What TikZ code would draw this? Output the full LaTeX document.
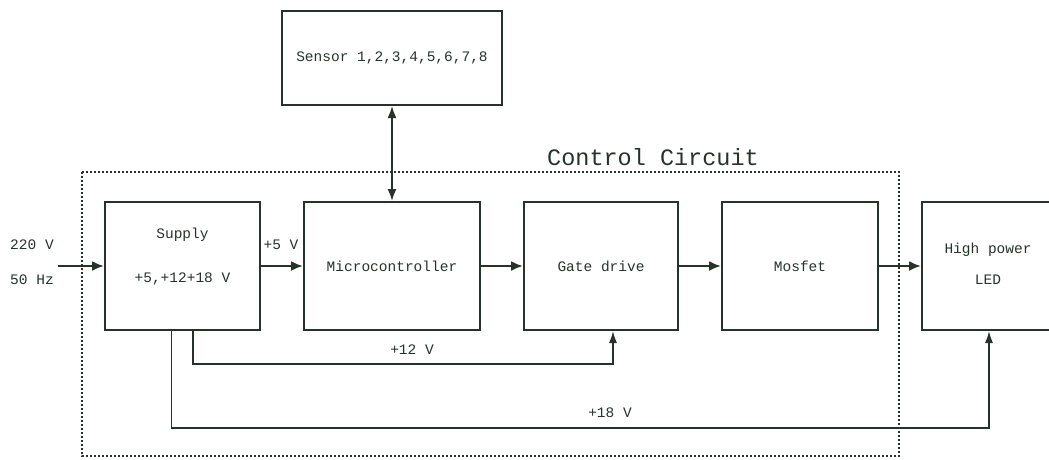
\documentclass[tikz,border=0pt]{standalone}
\usepackage{fontspec}
\setmonofont{Liberation Mono}
\usetikzlibrary{arrows.meta}
\definecolor{ink}{RGB}{40,50,44}
\begin{document}
\begin{tikzpicture}[x=1pt,y=-1pt,
  box/.style={draw=ink, line width=2pt, inner sep=0pt, align=center, font=\ttfamily\fontsize{14.5pt}{24pt}\selectfont, text=ink},
  lbl/.style={inner sep=0pt, font=\ttfamily\fontsize{14.5pt}{16pt}\selectfont, text=ink},
  arr/.style={draw=ink, line width=2.2pt, -{Latex[length=12pt,width=10pt]}},
  feed/.style={draw=ink, line width=1.5pt, -{Latex[length=12pt,width=8pt]}},
  dbl/.style={draw=ink, line width=1.8pt, {Latex[length=12pt,width=9pt]}-{Latex[length=12pt,width=9pt]}},
  frame/.style={draw=ink, line width=1.4pt, dash pattern=on 2pt off 2pt}
]
\useasboundingbox (0,0) rectangle (1049,459);
\fill[white] (0,0) rectangle (1049,459);

% control circuit frame
\draw[frame] (82,172) rectangle (899,456);
\node[lbl, font=\ttfamily\fontsize{23.5pt}{26pt}\selectfont] (ctrl) at (653,157) {Control Circuit};

% blocks
\node[box, minimum width=220pt, minimum height=94pt] (sensor) at (392,58) {Sensor 1,2,3,4,5,6,7,8};
\node[box, minimum width=155pt, minimum height=128pt] (supply) at (182.5,266) {};
\node[lbl] (supt) at (182.5,235) {Supply};
\node[lbl] (supv) at (182.5,279) {+5,+12+18 V};
\node[box, minimum width=176pt, minimum height=128pt] (micro) at (392,266) {Microcontroller};
\node[box, minimum width=154pt, minimum height=128pt] (gate) at (601,266) {Gate drive};
\node[box, minimum width=156pt, minimum height=128pt] (mosfet) at (800,266) {Mosfet};
\node[box, minimum width=138pt, minimum height=128pt] (led) at (991,266) {};
\node[lbl] (ledt1) at (988,250) {High power};
\node[lbl] (ledt2) at (988,280) {LED};

% input
\coordinate (in) at (58,266);
\node[lbl] (v220) at (32,245) {220 V};
\node[lbl] (hz50) at (32,280) {50 Hz};
\draw[arr] (in) -- (supply.west);

% main chain
\draw[arr] (supply.east) -- (micro.west);
\node[lbl] (v5) at (281,245) {+5 V};
\draw[arr] (micro.east) -- (gate.west);
\draw[arr] (gate.east) -- (mosfet.west);
\draw[arr] (mosfet.east) -- (led.west);
\draw[dbl] (sensor.south) -- (micro.north);

% supply rails
\draw[feed] ([xshift=10.5pt]supply.south) -- ++(0,33) -| ([xshift=12pt]gate.south);
\node[lbl] (v12) at (412,350) {+12 V};
\draw[feed] ([xshift=-11pt]supply.south) -- ++(0,97) -| ([xshift=-2pt]led.south);
\node[lbl] (v18) at (610,413) {+18 V};
\end{tikzpicture}
\end{document}
